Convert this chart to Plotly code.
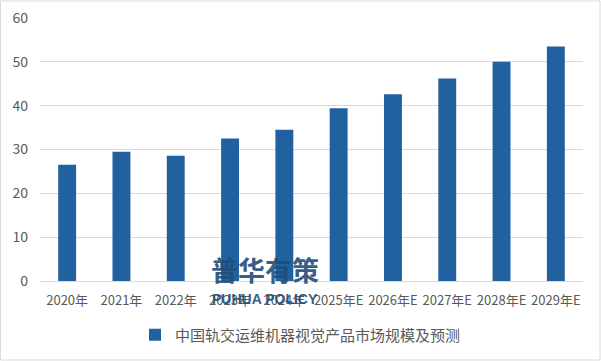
import plotly.graph_objects as go

categories = ["2020年", "2021年", "2022年", "2023年", "2024年",
              "2025年E", "2026年E", "2027年E", "2028年E", "2029年E"]
values = [26.5, 29.5, 28.6, 32.5, 34.5, 39.4, 42.6, 46.2, 50.0, 53.5]
series_name = "中国轨交运维机器视觉产品市场规模及预测"
y_ticks = [0, 10, 20, 30, 40, 50, 60]

font_family = "Noto Sans CJK SC, Noto Sans, sans-serif"

fig = go.Figure()
fig.add_trace(go.Bar(
    x=categories, y=values, name=series_name,
    marker=dict(color="#2161A0", line=dict(width=0)),
    width=0.33,
    showlegend=True,
))

fig.update_layout(
    width=601, height=361,
    margin=dict(l=40, r=18, t=18, b=80, autoexpand=False),
    paper_bgcolor="white", plot_bgcolor="white",
    font=dict(family=font_family, size=13, color="#595959"),
    bargap=0.67,
    showlegend=True,
    legend=dict(orientation="h", x=0.5, xanchor="center", xref="container",
                y=26/361, yanchor="middle", yref="container",
                font=dict(size=15, color="#595959"),
                itemwidth=30, bgcolor="rgba(0,0,0,0)"),
    xaxis=dict(showgrid=False, showline=True, linecolor="#D9D9D9", linewidth=1,
               ticks="", ticklabelstandoff=7,
               tickfont=dict(size=13, color="#595959"), fixedrange=True),
    yaxis=dict(range=[0, 60], tickvals=y_ticks, showgrid=True, gridcolor="#D9D9D9",
               gridwidth=1, zeroline=False, showline=False, ticks="",
               ticklabelstandoff=11,
               tickfont=dict(size=14, color="#595959"), fixedrange=True),
    shapes=[dict(type="rect", xref="paper", yref="paper", x0=-39.5/543, x1=1+17/543,
                 y0=-79/263, y1=1+17/263, line=dict(color="#D9D9D9", width=1),
                 fillcolor="rgba(0,0,0,0)", layer="below")],
    annotations=[
        dict(text="<b>普华有策</b>", xref="paper", yref="paper", x=(265-40)/543,
             y=(281-291)/263, yanchor="bottom", xanchor="center", showarrow=False,
             font=dict(size=27, color="#1F4E79", family=font_family), opacity=0.9),
        dict(text="<b>PUHUA POLICY</b>", xref="paper", yref="paper", x=(265-40)/543,
             y=(281-299)/263, yanchor="middle", xanchor="center", showarrow=False,
             font=dict(size=14, color="#1F4E79",
                       family="Liberation Sans Narrow, Liberation Sans, sans-serif"),
             opacity=0.9),
    ],
)

fig.write_html("out.html", config={"displayModeBar": False},
               post_script="document.body.style.margin='0';document.body.style.overflow='hidden';")
